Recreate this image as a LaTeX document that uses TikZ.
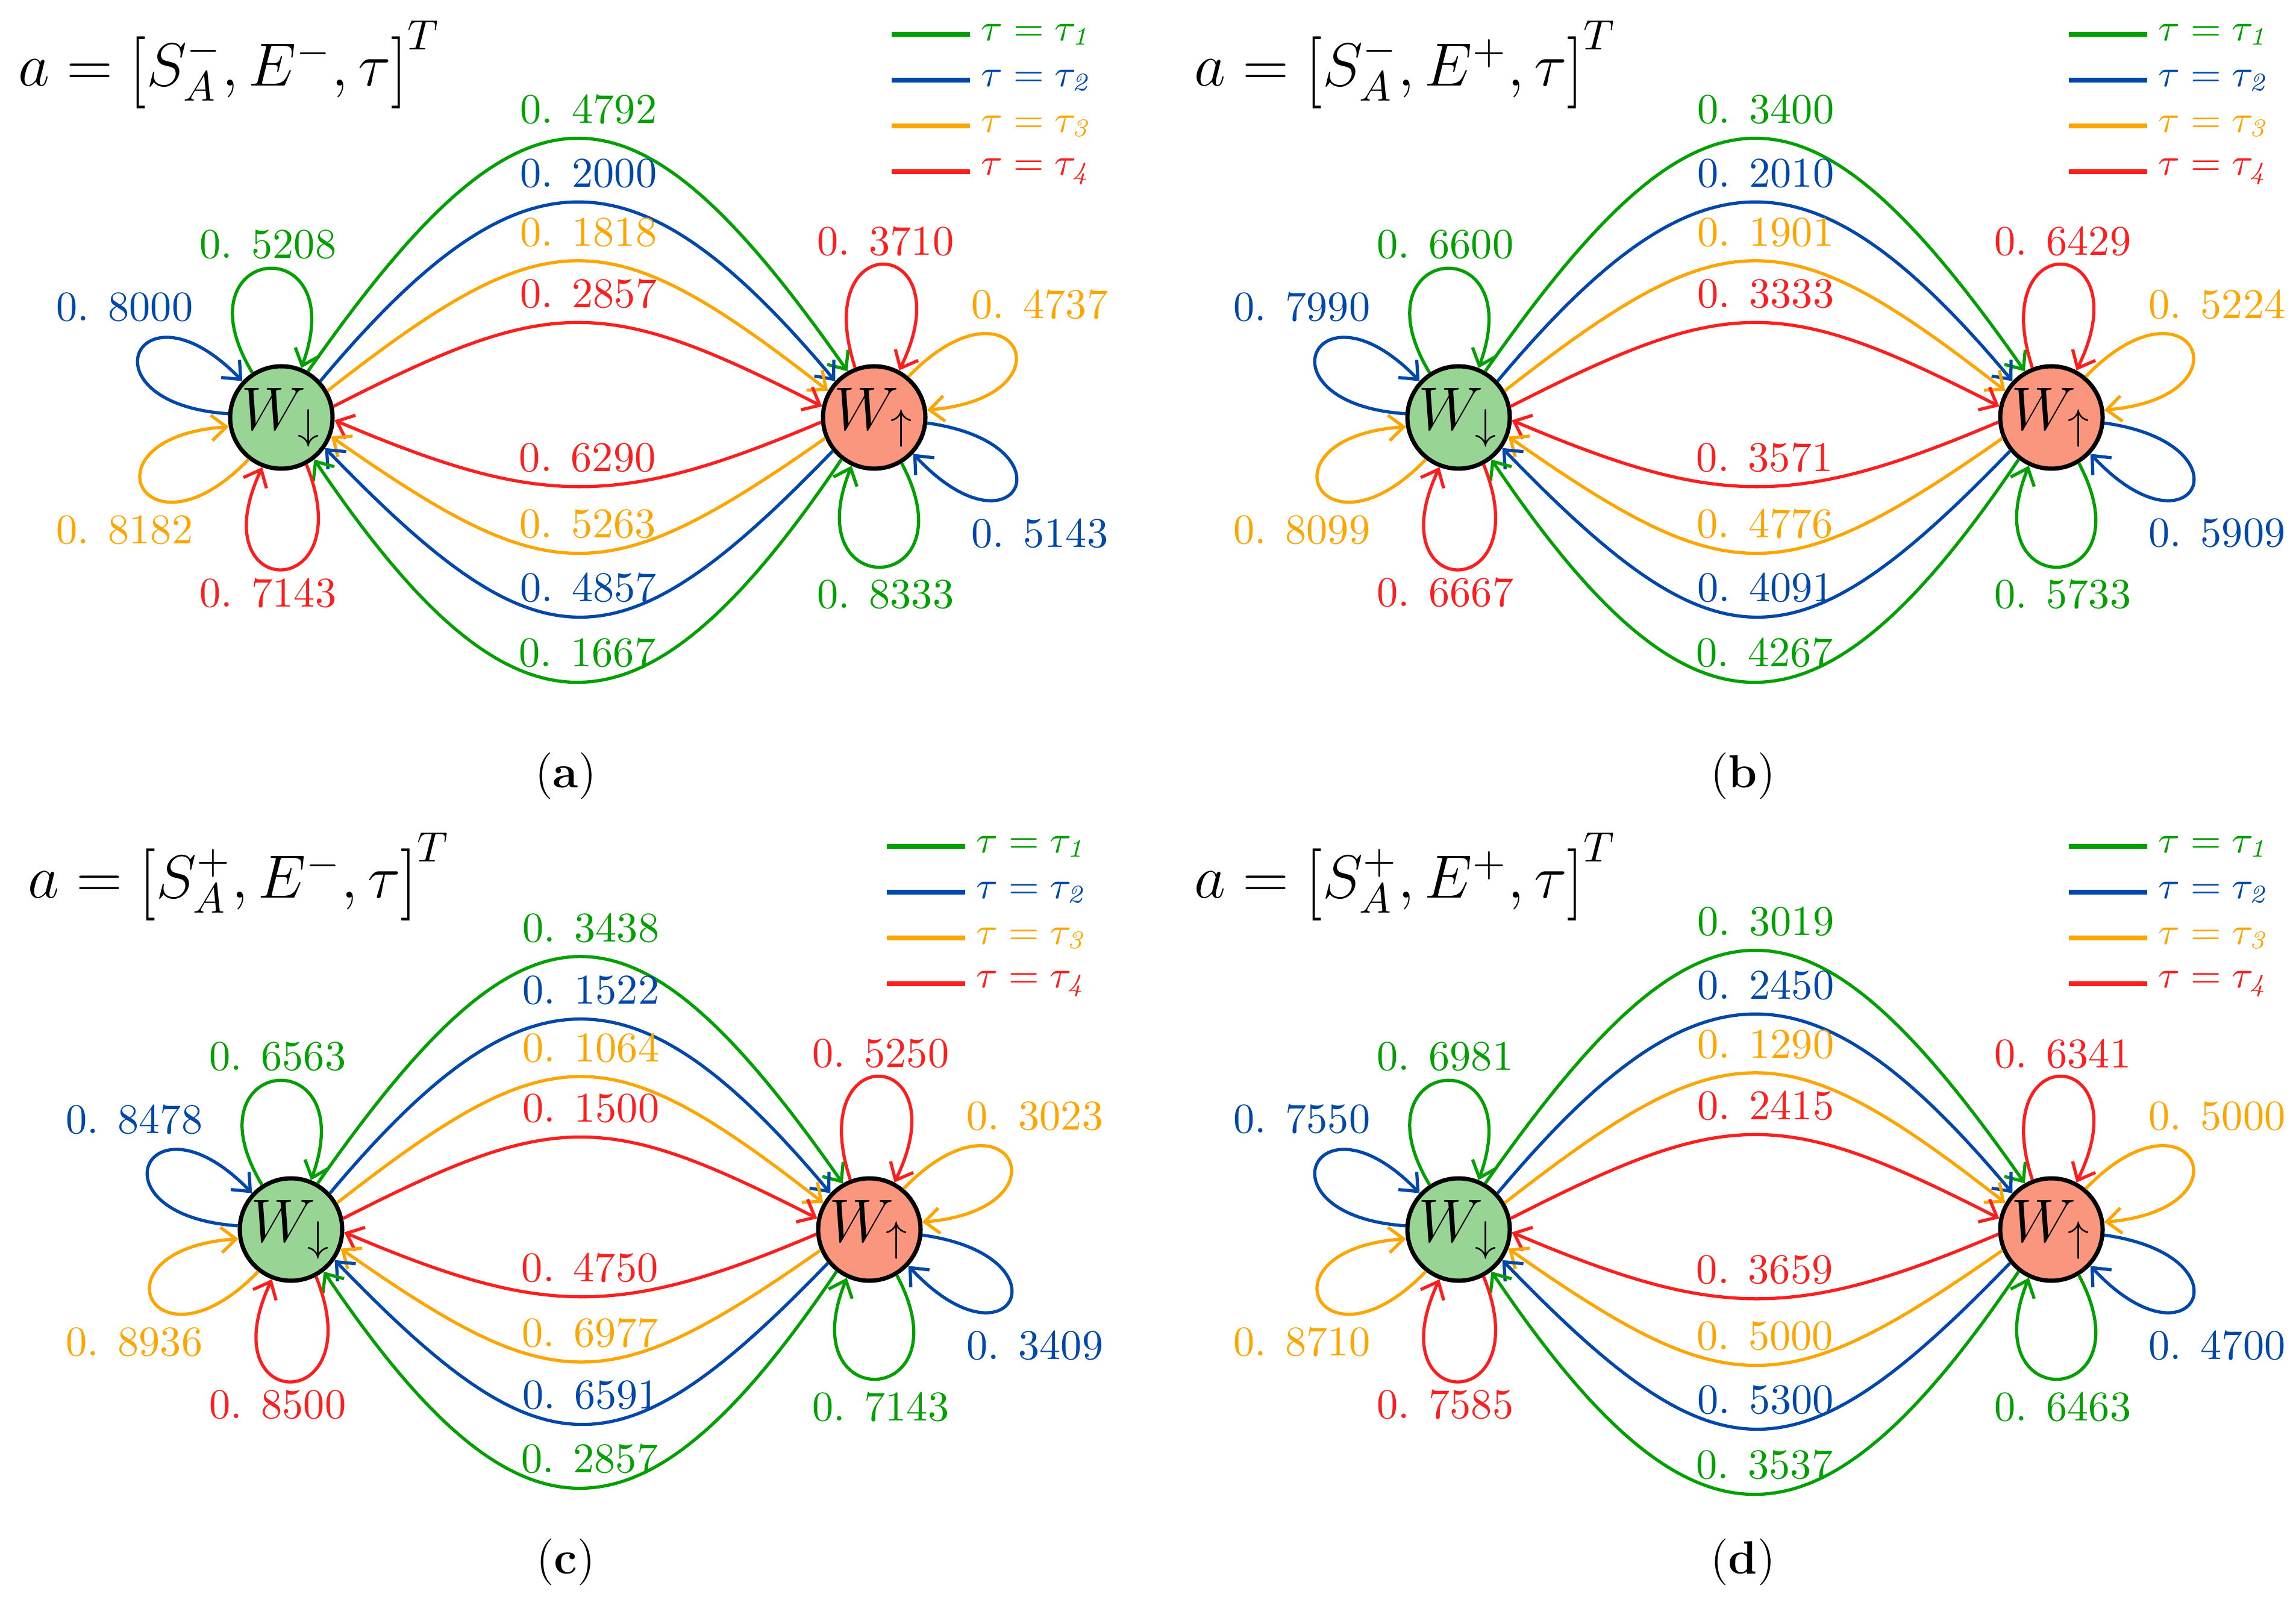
\documentclass[tikz,border=0pt]{standalone}
\usepackage{graphicx}
\usepackage{tikz}
\usetikzlibrary{arrows.meta}

\definecolor{tauA}{RGB}{0,160,0}
\definecolor{tauB}{RGB}{0,71,171}
\definecolor{tauC}{RGB}{255,165,0}
\definecolor{tauD}{RGB}{255,30,30}
\definecolor{downfill}{RGB}{152,212,148}
\definecolor{upfill}{RGB}{250,150,125}

% taller brackets for the action vectors
\newcommand{\actl}{\mathopen{\vcenter{\hbox{\scalebox{1}[1.18]{$\Bigl[$}}}}}
\newcommand{\actr}{\mathclose{\vcenter{\hbox{\scalebox{1}[1.18]{$\Bigr]$}}}}}

\tikzset{
  statenode/.style={circle, draw=black, line width=1pt, minimum size=0.85cm, inner sep=0pt, font=\Large},
  wdown/.style={statenode, fill=downfill},
  wup/.style={statenode, fill=upfill},
  flow/.style={line width=0.75pt, -{Straight Barb[length=3.5pt,width=6pt]}},
  val/.style={above, inner sep=3pt, xshift=0.09cm},
  valb/.style={above, inner sep=3pt, xshift=0.08cm},
  selfloop/.style={min distance=1.25cm},
  legline/.style={line width=1.2pt},
  legtext/.style={right, inner sep=2pt, font=\small},
}

\begin{document}
\begin{tikzpicture}

    \useasboundingbox (-2.335,-9.79) rectangle (16.72,3.465);

    % panel (a)
    \begin{scope}[name prefix=a-]
    % nodes (states)
    \node[wdown] (wd) at (0,0) {$W_{\downarrow}$};
    \node[wup] (wu) at (4.92,0) {$W_{\uparrow}$};

    % paths
    \draw[flow,tauA] (wd.60) to[out=55,in=125,looseness=1.8] node[val] (t1) {0. 4792} (wu.120); % W_down -> W_up
    \draw[flow,tauB] (wd.43) to[out=50,in=130,looseness=1.55] node[val] (t2) {0. 2000} (wu.137);
    \draw[flow,tauC] (wd.30) to[out=38,in=142,looseness=1.44] node[val] (t3) {0. 1818} (wu.150);
    \draw[flow,tauD] (wd.12) to[out=27,in=153,looseness=1.29] node[val] (t4) {0. 2857} (wu.168);
    \draw[flow,tauD] (wu.185) to[out=203,in=-23,looseness=1.17] node[valb] (b4) {0. 6290} (wd.-3); % W_up -> W_down
    \draw[flow,tauC] (wu.203) to[out=215,in=-35,looseness=1.39] node[valb] (b3) {0. 5263} (wd.-21);
    \draw[flow,tauB] (wu.219) to[out=226,in=-46,looseness=1.56] node[valb] (b2) {0. 4857} (wd.-35);
    \draw[flow,tauA] (wu.232) to[out=236,in=-56,looseness=1.74] node[valb] (b1) {0. 1667} (wd.-52);

    % self loops
    \draw[flow,tauA] (wd.123) to[out=121,in=70,selfloop] (wd.68);
    \draw[flow,tauB] (wd.176) to[out=176,in=134,selfloop] (wd.137);
    \draw[flow,tauC] (wd.232) to[out=226,in=184,selfloop] (wd.190);
    \draw[flow,tauD] (wd.298) to[out=292,in=245,selfloop] (wd.249);
    \draw[flow,tauD] (wu.111) to[out=108,in=64,selfloop] (wu.62);
    \draw[flow,tauC] (wu.50) to[out=46,in=5,selfloop] (wu.8);
    \draw[flow,tauB] (wu.-6) to[out=-8,in=-47,selfloop] (wu.-43);
    \draw[flow,tauA] (wu.-59) to[out=-62,in=-112,selfloop] (wu.-115);

    % nodes (loop values)
    \node[tauA] (d1) at (-0.11,1.435) {0. 5208};
    \node[tauB] (d2) at (-1.3,0.915) {0. 8000};
    \node[tauC] (d3) at (-1.3,-0.935) {0. 8182};
    \node[tauD] (d4) at (-0.11,-1.455) {0. 7143};
    \node[tauD] (u4) at (5.015,1.46) {0. 3710};
    \node[tauC] (u3) at (6.295,0.94) {0. 4737};
    \node[tauB] (u2) at (6.295,-0.96) {0. 5143};
    \node[tauA] (u1) at (5.015,-1.47) {0. 8333};

    % extras
    \node[anchor=base west,inner sep=0pt] (title) at (-2.19,2.75) {\Large $a=\actl S_A^-,E^-,\tau\actr^T$};
    \foreach \c/\y/\k in {tauA/3.18/1, tauB/2.8/2, tauC/2.42/3, tauD/2.04/4}{
        \coordinate (l\k) at (5.065,\y);
        \draw[legline,\c] (l\k) -- ++(0.65,0) node[legtext] (lt\k) {$\tau=\tau_{\mathit{\k}}$};
    }
    \node[font=\fontsize{11}{13}\selectfont] (cap) at (2.36,-2.975) {(\textbf{a})};
    \end{scope}

    % panel (b)
    \begin{scope}[shift={(9.77,0)},name prefix=b-]
    % nodes (states)
    \node[wdown] (wd) at (0,0) {$W_{\downarrow}$};
    \node[wup] (wu) at (4.92,0) {$W_{\uparrow}$};

    % paths
    \draw[flow,tauA] (wd.60) to[out=55,in=125,looseness=1.8] node[val] (t1) {0. 3400} (wu.120); % W_down -> W_up
    \draw[flow,tauB] (wd.43) to[out=50,in=130,looseness=1.55] node[val] (t2) {0. 2010} (wu.137);
    \draw[flow,tauC] (wd.30) to[out=38,in=142,looseness=1.44] node[val] (t3) {0. 1901} (wu.150);
    \draw[flow,tauD] (wd.12) to[out=27,in=153,looseness=1.29] node[val] (t4) {0. 3333} (wu.168);
    \draw[flow,tauD] (wu.185) to[out=203,in=-23,looseness=1.17] node[valb] (b4) {0. 3571} (wd.-3); % W_up -> W_down
    \draw[flow,tauC] (wu.203) to[out=215,in=-35,looseness=1.39] node[valb] (b3) {0. 4776} (wd.-21);
    \draw[flow,tauB] (wu.219) to[out=226,in=-46,looseness=1.56] node[valb] (b2) {0. 4091} (wd.-35);
    \draw[flow,tauA] (wu.232) to[out=236,in=-56,looseness=1.74] node[valb] (b1) {0. 4267} (wd.-52);

    % self loops
    \draw[flow,tauA] (wd.123) to[out=121,in=70,selfloop] (wd.68);
    \draw[flow,tauB] (wd.176) to[out=176,in=134,selfloop] (wd.137);
    \draw[flow,tauC] (wd.232) to[out=226,in=184,selfloop] (wd.190);
    \draw[flow,tauD] (wd.298) to[out=292,in=245,selfloop] (wd.249);
    \draw[flow,tauD] (wu.111) to[out=108,in=64,selfloop] (wu.62);
    \draw[flow,tauC] (wu.50) to[out=46,in=5,selfloop] (wu.8);
    \draw[flow,tauB] (wu.-6) to[out=-8,in=-47,selfloop] (wu.-43);
    \draw[flow,tauA] (wu.-59) to[out=-62,in=-112,selfloop] (wu.-115);

    % nodes (loop values)
    \node[tauA] (d1) at (-0.11,1.435) {0. 6600};
    \node[tauB] (d2) at (-1.3,0.915) {0. 7990};
    \node[tauC] (d3) at (-1.3,-0.935) {0. 8099};
    \node[tauD] (d4) at (-0.11,-1.455) {0. 6667};
    \node[tauD] (u4) at (5.015,1.46) {0. 6429};
    \node[tauC] (u3) at (6.295,0.94) {0. 5224};
    \node[tauB] (u2) at (6.295,-0.96) {0. 5909};
    \node[tauA] (u1) at (5.015,-1.47) {0. 5733};

    % extras
    \node[anchor=base west,inner sep=0pt] (title) at (-2.2,2.75) {\Large $a=\actl S_A^-,E^+,\tau\actr^T$};
    \foreach \c/\y/\k in {tauA/3.18/1, tauB/2.8/2, tauC/2.42/3, tauD/2.04/4}{
        \coordinate (l\k) at (5.065,\y);
        \draw[legline,\c] (l\k) -- ++(0.65,0) node[legtext] (lt\k) {$\tau=\tau_{\mathit{\k}}$};
    }
    \node[font=\fontsize{11}{13}\selectfont] (cap) at (2.36,-2.975) {(\textbf{b})};
    \end{scope}

    % panel (c)
    \begin{scope}[shift={(0.08,-6.74)},name prefix=c-]
    % nodes (states)
    \node[wdown] (wd) at (0,0) {$W_{\downarrow}$};
    \node[wup] (wu) at (4.8,0) {$W_{\uparrow}$};

    % paths
    \draw[flow,tauA] (wd.60) to[out=55,in=125,looseness=1.8] node[val] (t1) {0. 3438} (wu.120); % W_down -> W_up
    \draw[flow,tauB] (wd.43) to[out=50,in=130,looseness=1.55] node[val] (t2) {0. 1522} (wu.137);
    \draw[flow,tauC] (wd.30) to[out=38,in=142,looseness=1.44] node[val] (t3) {0. 1064} (wu.150);
    \draw[flow,tauD] (wd.12) to[out=27,in=153,looseness=1.29] node[val] (t4) {0. 1500} (wu.168);
    \draw[flow,tauD] (wu.185) to[out=203,in=-23,looseness=1.17] node[valb] (b4) {0. 4750} (wd.-3); % W_up -> W_down
    \draw[flow,tauC] (wu.203) to[out=215,in=-35,looseness=1.39] node[valb] (b3) {0. 6977} (wd.-21);
    \draw[flow,tauB] (wu.219) to[out=226,in=-46,looseness=1.56] node[valb] (b2) {0. 6591} (wd.-35);
    \draw[flow,tauA] (wu.232) to[out=236,in=-56,looseness=1.74] node[valb] (b1) {0. 2857} (wd.-52);

    % self loops
    \draw[flow,tauA] (wd.123) to[out=121,in=70,selfloop] (wd.68);
    \draw[flow,tauB] (wd.176) to[out=176,in=134,selfloop] (wd.137);
    \draw[flow,tauC] (wd.232) to[out=226,in=184,selfloop] (wd.190);
    \draw[flow,tauD] (wd.298) to[out=292,in=245,selfloop] (wd.249);
    \draw[flow,tauD] (wu.111) to[out=108,in=64,selfloop] (wu.62);
    \draw[flow,tauC] (wu.50) to[out=46,in=5,selfloop] (wu.8);
    \draw[flow,tauB] (wu.-6) to[out=-8,in=-47,selfloop] (wu.-43);
    \draw[flow,tauA] (wu.-59) to[out=-62,in=-112,selfloop] (wu.-115);

    % nodes (loop values)
    \node[tauA] (d1) at (-0.11,1.435) {0. 6563};
    \node[tauB] (d2) at (-1.3,0.915) {0. 8478};
    \node[tauC] (d3) at (-1.3,-0.935) {0. 8936};
    \node[tauD] (d4) at (-0.11,-1.455) {0. 8500};
    \node[tauD] (u4) at (4.895,1.46) {0. 5250};
    \node[tauC] (u3) at (6.175,0.94) {0. 3023};
    \node[tauB] (u2) at (6.175,-0.96) {0. 3409};
    \node[tauA] (u1) at (4.895,-1.47) {0. 7143};

    % extras
    \node[anchor=base west,inner sep=0pt] (title) at (-2.19,2.75) {\Large $a=\actl S_A^+,E^-,\tau\actr^T$};
    \foreach \c/\y/\k in {tauA/3.18/1, tauB/2.8/2, tauC/2.42/3, tauD/2.04/4}{
        \coordinate (l\k) at (4.945,\y);
        \draw[legline,\c] (l\k) -- ++(0.65,0) node[legtext] (lt\k) {$\tau=\tau_{\mathit{\k}}$};
    }
    \node[font=\fontsize{11}{13}\selectfont] (cap) at (2.28,-2.76) {(\textbf{c})};
    \end{scope}

    % panel (d)
    \begin{scope}[shift={(9.77,-6.74)},name prefix=d-]
    % nodes (states)
    \node[wdown] (wd) at (0,0) {$W_{\downarrow}$};
    \node[wup] (wu) at (4.92,0) {$W_{\uparrow}$};

    % paths
    \draw[flow,tauA] (wd.60) to[out=55,in=125,looseness=1.8] node[val] (t1) {0. 3019} (wu.120); % W_down -> W_up
    \draw[flow,tauB] (wd.43) to[out=50,in=130,looseness=1.55] node[val] (t2) {0. 2450} (wu.137);
    \draw[flow,tauC] (wd.30) to[out=38,in=142,looseness=1.44] node[val] (t3) {0. 1290} (wu.150);
    \draw[flow,tauD] (wd.12) to[out=27,in=153,looseness=1.29] node[val] (t4) {0. 2415} (wu.168);
    \draw[flow,tauD] (wu.185) to[out=203,in=-23,looseness=1.17] node[valb] (b4) {0. 3659} (wd.-3); % W_up -> W_down
    \draw[flow,tauC] (wu.203) to[out=215,in=-35,looseness=1.39] node[valb] (b3) {0. 5000} (wd.-21);
    \draw[flow,tauB] (wu.219) to[out=226,in=-46,looseness=1.56] node[valb] (b2) {0. 5300} (wd.-35);
    \draw[flow,tauA] (wu.232) to[out=236,in=-56,looseness=1.74] node[valb] (b1) {0. 3537} (wd.-52);

    % self loops
    \draw[flow,tauA] (wd.123) to[out=121,in=70,selfloop] (wd.68);
    \draw[flow,tauB] (wd.176) to[out=176,in=134,selfloop] (wd.137);
    \draw[flow,tauC] (wd.232) to[out=226,in=184,selfloop] (wd.190);
    \draw[flow,tauD] (wd.298) to[out=292,in=245,selfloop] (wd.249);
    \draw[flow,tauD] (wu.111) to[out=108,in=64,selfloop] (wu.62);
    \draw[flow,tauC] (wu.50) to[out=46,in=5,selfloop] (wu.8);
    \draw[flow,tauB] (wu.-6) to[out=-8,in=-47,selfloop] (wu.-43);
    \draw[flow,tauA] (wu.-59) to[out=-62,in=-112,selfloop] (wu.-115);

    % nodes (loop values)
    \node[tauA] (d1) at (-0.11,1.435) {0. 6981};
    \node[tauB] (d2) at (-1.3,0.915) {0. 7550};
    \node[tauC] (d3) at (-1.3,-0.935) {0. 8710};
    \node[tauD] (d4) at (-0.11,-1.455) {0. 7585};
    \node[tauD] (u4) at (5.015,1.46) {0. 6341};
    \node[tauC] (u3) at (6.295,0.94) {0. 5000};
    \node[tauB] (u2) at (6.295,-0.96) {0. 4700};
    \node[tauA] (u1) at (5.015,-1.47) {0. 6463};

    % extras
    \node[anchor=base west,inner sep=0pt] (title) at (-2.2,2.75) {\Large $a=\actl S_A^+,E^+,\tau\actr^T$};
    \foreach \c/\y/\k in {tauA/3.18/1, tauB/2.8/2, tauC/2.42/3, tauD/2.04/4}{
        \coordinate (l\k) at (5.065,\y);
        \draw[legline,\c] (l\k) -- ++(0.65,0) node[legtext] (lt\k) {$\tau=\tau_{\mathit{\k}}$};
    }
    \node[font=\fontsize{11}{13}\selectfont] (cap) at (2.36,-2.76) {(\textbf{d})};
    \end{scope}

\end{tikzpicture}
\end{document}
